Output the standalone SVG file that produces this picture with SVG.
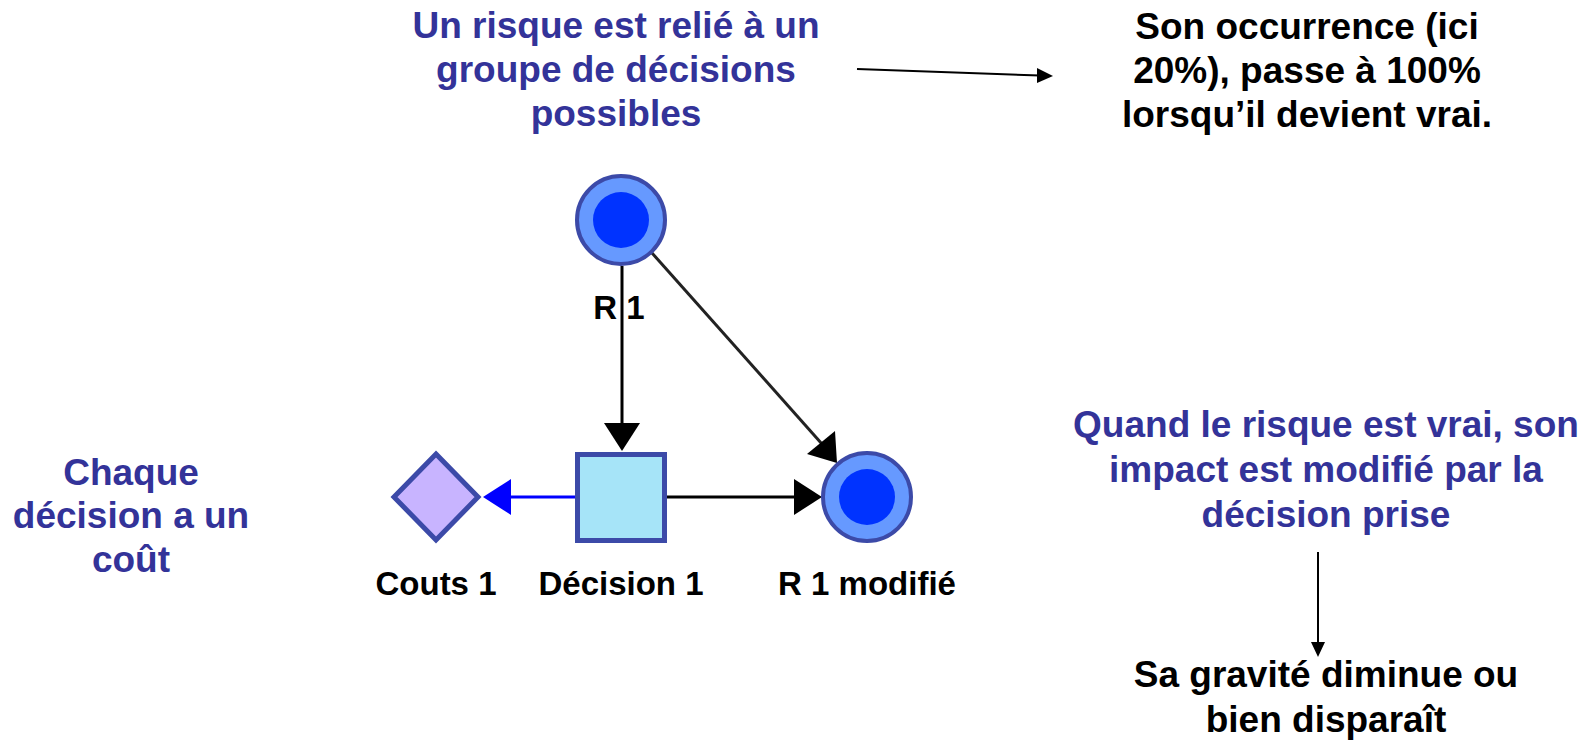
<svg xmlns="http://www.w3.org/2000/svg" width="1596" height="741" viewBox="0 0 1596 741">
  <style>
    .note { font-family: "Liberation Sans", Arial, sans-serif; font-weight: bold; font-size: 37px; text-anchor: middle; }
    .blue { fill: #333399; }
    .black { fill: #000000; }
    .lbl { font-family: "Liberation Sans", Arial, sans-serif; font-weight: bold; font-size: 33px; text-anchor: middle; fill: #000000; }
    .ring { fill: #6699ff; stroke: #3c4aa8; stroke-width: 4; }
    .core { fill: #0033ff; }
    .edge { stroke: #000000; stroke-width: 3; fill: none; }
    .thin { stroke: #000000; stroke-width: 2; fill: none; }
  </style>
  <rect width="1596" height="741" fill="#ffffff"/>

  <!-- annotation texts -->
  <g id="note-top">
    <text class="note blue" x="616" y="38">Un risque est relié à un</text>
    <text class="note blue" x="616" y="82">groupe de décisions</text>
    <text class="note blue" x="616" y="126">possibles</text>
  </g>
  <g id="note-occurrence">
    <text class="note black" x="1307" y="39">Son occurrence (ici</text>
    <text class="note black" x="1307" y="83">20%), passe à 100%</text>
    <text class="note black" x="1307" y="127">lorsqu’il devient vrai.</text>
  </g>
  <g id="note-cout">
    <text class="note blue" x="131" y="485">Chaque</text>
    <text class="note blue" x="131" y="528">décision a un</text>
    <text class="note blue" x="131" y="572">coût</text>
  </g>
  <g id="note-impact">
    <text class="note blue" x="1326" y="437">Quand le risque est vrai, son</text>
    <text class="note blue" x="1326" y="482">impact est modifié par la</text>
    <text class="note blue" x="1326" y="527">décision prise</text>
  </g>
  <g id="note-gravite">
    <text class="note black" x="1326" y="687">Sa gravité diminue ou</text>
    <text class="note black" x="1326" y="732">bien disparaît</text>
  </g>

  <!-- connectors -->
  <g id="connectors">
    <line class="edge" x1="622" y1="266" x2="622" y2="425"/>
    <polygon points="604,423 640,423 622,451" fill="#000000"/>
    <line x1="575" y1="497" x2="508" y2="497" stroke="#0000ff" stroke-width="3"/>
    <polygon points="511,479 511,515 483,497" fill="#0000ff"/>
    <line class="edge" x1="667" y1="497" x2="796" y2="497"/>
    <polygon points="794,479 794,515 822,497" fill="#000000"/>
    <line x1="652" y1="253" x2="822" y2="444" stroke="#222222" stroke-width="3"/>
    <polygon points="835,431 807,454 837,463" fill="#000000"/>
    <line class="thin" x1="857" y1="69" x2="1040" y2="75.5"/>
    <polygon points="1037,68 1037,83 1053,76" fill="#000000"/>
    <line class="thin" x1="1318" y1="552" x2="1318" y2="644"/>
    <polygon points="1311,642 1325,642 1318,657" fill="#000000"/>
  </g>

  <!-- nodes -->
  <g id="node-r1">
    <circle class="ring" cx="621" cy="220" r="44"/>
    <circle class="core" cx="621" cy="220" r="28"/>
    <text class="lbl" x="619" y="319">R 1</text>
  </g>
  <g id="node-decision1">
    <rect x="577.5" y="454.5" width="87" height="86" fill="#a6e4f8" stroke="#3c4aa8" stroke-width="5"/>
    <text class="lbl" x="621" y="595">Décision 1</text>
  </g>
  <g id="node-couts1">
    <polygon points="436,454 478,497 436,540 394,497" fill="#c8b4ff" stroke="#3c4aa8" stroke-width="5" stroke-linejoin="miter"/>
    <text class="lbl" x="436" y="595">Couts 1</text>
  </g>
  <g id="node-r1mod">
    <circle class="ring" cx="867" cy="497" r="44"/>
    <circle class="core" cx="867" cy="497" r="28"/>
    <text class="lbl" x="867" y="595">R 1 modifié</text>
  </g>
</svg>
